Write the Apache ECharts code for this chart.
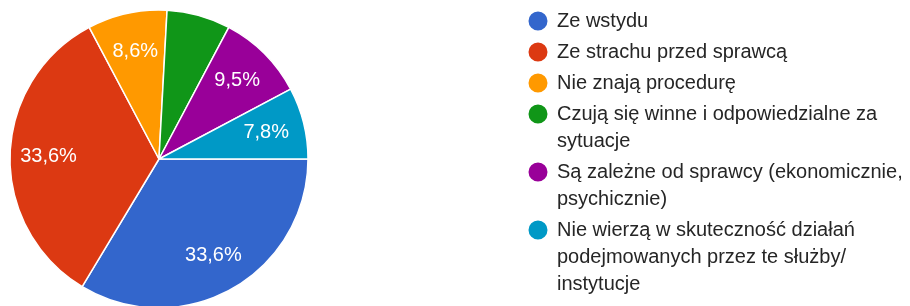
<!DOCTYPE html>
<html>
<head>
<meta charset="utf-8">
<script src="https://cdn.jsdelivr.net/npm/echarts@6/dist/echarts.min.js"></script>
<style>
  html, body { margin: 0; padding: 0; background: #fff; }
  #main { width: 910px; height: 306px; }
</style>
</head>
<body>
<div id="main"></div>
<script>
// odpowiedzi (liczba osób)
var categories = [
    'Ze wstydu',
    'Ze strachu przed sprawcą',
    'Nie znają procedurę',
    'Czują się winne i odpowiedzialne za sytuacje',
    'Są zależne od sprawcy (ekonomicznie, psychicznie)',
    'Nie wierzą w skuteczność działań podejmowanych przez te służby/ instytucje'
];
var counts = [39, 39, 10, 8, 11, 9];
var colors = ['#3366cc', '#dc3912', '#ff9900', '#109618', '#990099', '#0099c6'];

var FONT = '"Liberation Sans", Arial, sans-serif';
var FONT_SIZE = 20;
var LINE_H = 27;
var WRAP_W = 356;

// łamanie opisów legendy na linie (jak w Google Forms)
var ctx = document.createElement('canvas').getContext('2d');
ctx.font = FONT_SIZE + 'px ' + FONT;
function wrap(text) {
    var words = text.split(' ');
    var lines = [];
    var cur = '';
    words.forEach(function (w) {
        var test = cur ? cur + ' ' + w : w;
        if (cur && ctx.measureText(test).width > WRAP_W) {
            lines.push(cur);
            cur = w;
        } else {
            cur = test;
        }
    });
    if (cur) lines.push(cur);
    return lines;
}

// kółko przy pierwszej linii opisu: ramka 28 x LINE_H*n, kółko u góry
function dotIcon(n) {
    var h = LINE_H * n;
    var cy = LINE_H / 2;
    return 'path://M0,0 L0.01,0 Z M28,' + h + ' L27.99,' + h + ' Z ' +
        'M4.5,' + cy + ' A9.5,9.5 0 1 1 23.5,' + cy + ' A9.5,9.5 0 1 1 4.5,' + cy + ' Z';
}

// osobna legenda dla każdej pozycji
var legends = [];
var cursor = 7.5;
categories.forEach(function (c) {
    var lines = wrap(c);
    var n = lines.length;
    legends.push({
        orient: 'vertical',
        left: 524,
        top: cursor,
        padding: 0,
        itemWidth: 28,
        itemHeight: LINE_H * n,
        data: [{name: c, icon: dotIcon(n)}],
        itemStyle: {borderWidth: 0},
        formatter: function () {
            return lines.join('\n');
        },
        textStyle: {
            fontFamily: FONT,
            fontSize: FONT_SIZE,
            lineHeight: LINE_H,
            color: '#262626'
        }
    });
    cursor += LINE_H * n + 4;
});

var myChart = echarts.init(document.getElementById('main'), null, {renderer: 'canvas'});

var pieData = categories.map(function (name, i) {
    return {name: name, value: counts[i]};
});

var option = {
    backgroundColor: '#fff',
    animation: false,
    color: colors,
    legend: legends,
    series: [{
        // pełne koło
        type: 'pie',
        center: [159, 159],
        radius: [0, 149],
        startAngle: 0,
        clockwise: true,
        label: {show: false},
        labelLine: {show: false},
        itemStyle: {borderColor: '#fff', borderWidth: 1.5},
        emphasis: {disabled: true},
        data: pieData
    }, {
        // warstwa tylko z etykietami (dalej od środka)
        type: 'pie',
        center: [159, 159],
        radius: [66, 149],
        startAngle: 0,
        clockwise: true,
        silent: true,
        legendHoverLink: false,
        percentPrecision: 1,
        itemStyle: {color: 'rgba(0,0,0,0)'},
        labelLine: {show: false},
        emphasis: {disabled: true},
        label: {
            show: true,
            position: 'inside',
            color: '#fff',
            fontFamily: FONT,
            fontSize: FONT_SIZE,
            formatter: function (p) {
                if (p.percent < 7) return '';
                return String(p.percent.toFixed(1)).replace('.', ',') + '%';
            }
        },
        data: pieData
    }]
};
myChart.setOption(option);
</script>
</body>
</html>
